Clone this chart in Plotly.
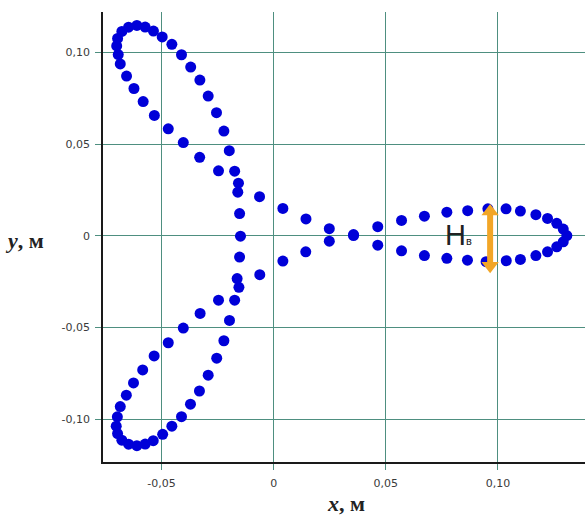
import plotly.graph_objects as go

# Trajectory points (metres), in drawing order
x_m = [-0.0497, -0.0536, -0.0573, -0.0610, -0.0647, -0.0677, -0.0696, -0.0700, -0.0693, -0.0684,
       -0.0656, -0.0623, -0.0582, -0.0532, -0.0470, -0.0403, -0.0330, -0.0246, -0.0157, -0.0063,
       0.0041, 0.0144, 0.0248, 0.0356, 0.0464, 0.0570, 0.0672, 0.0772, 0.0864, 0.0947,
       0.1037, 0.1100, 0.1169, 0.1221, 0.1262, 0.1291, 0.1307, 0.1291, 0.1262, 0.1221,
       0.1169, 0.1100, 0.1036, 0.0955, 0.0865, 0.0772, 0.0672, 0.0570, 0.0464, 0.0356,
       0.0248, 0.0143, 0.0041, -0.0062, -0.0155, -0.0246, -0.0328, -0.0403, -0.0470, -0.0533,
       -0.0584, -0.0625, -0.0657, -0.0684, -0.0697, -0.0702, -0.0696, -0.0677, -0.0647, -0.0610,
       -0.0573, -0.0537, -0.0495, -0.0454, -0.0411, -0.0371, -0.0331, -0.0292, -0.0254, -0.0222,
       -0.0197, -0.0174, -0.0163, -0.0152, -0.0148, -0.0152, -0.0160, -0.0174, -0.0198, -0.0222,
       -0.0255, -0.0292, -0.0329, -0.0370, -0.0411, -0.0454]
y_m = [0.1084, 0.1116, 0.1138, 0.1147, 0.1137, 0.1114, 0.1076, 0.1035, 0.0988, 0.0937,
       0.0871, 0.0803, 0.0732, 0.0656, 0.0583, 0.0508, 0.0428, 0.0354, 0.0287, 0.0213,
       0.0149, 0.0092, 0.0039, 0.0001, -0.0051, -0.0082, -0.0108, -0.0123, -0.0133, -0.0141,
       -0.0136, -0.0129, -0.0108, -0.0087, -0.0060, -0.0033, 0.0001, 0.0037, 0.0068, 0.0095,
       0.0115, 0.0135, 0.0147, 0.0147, 0.0137, 0.0129, 0.0107, 0.0084, 0.0050, 0.0007,
       -0.0029, -0.0087, -0.0138, -0.0212, -0.0281, -0.0351, -0.0423, -0.0503, -0.0583, -0.0655,
       -0.0731, -0.0802, -0.0869, -0.0931, -0.0987, -0.1038, -0.1078, -0.1114, -0.1136, -0.1144,
       -0.1135, -0.1117, -0.1082, -0.1038, -0.0986, -0.0918, -0.0846, -0.0760, -0.0667, -0.0572,
       -0.0461, -0.0351, -0.0233, -0.0116, -0.0002, 0.0121, 0.0238, 0.0352, 0.0464, 0.0571,
       0.0671, 0.0762, 0.0849, 0.0920, 0.0987, 0.1044]

# Tick values and labels
x_ticks = [-0.05, 0.0, 0.05, 0.10]
x_tick_text = ["-0,05", "0", "0,05", "0,10"]
y_ticks = [-0.10, -0.05, 0.0, 0.05, 0.10]
y_tick_text = ["-0,10", "-0,05", "0", "0,05", "0,10"]

# H_в dimension arrow (x position and vertical extent)
arrow_x = 0.0965
arrow_top = 0.0132
arrow_bottom = -0.0163
label_x = 0.0823
label_y = 0.0006

grid_col = "#4e8f80"
dot_col = "#0000d8"
arrow_col = "#f2a627"
title_font = dict(family="Liberation Serif, Times New Roman", size=22, color="#222222")

fig = go.Figure()
fig.add_trace(go.Scatter(x=x_m, y=y_m, mode="markers",
                         marker=dict(size=11, color=dot_col, line=dict(width=0)),
                         cliponaxis=False, hoverinfo="skip"))
# arrow shaft
fig.add_trace(go.Scatter(x=[arrow_x, arrow_x], y=[arrow_top, arrow_bottom], mode="lines",
                         line=dict(color=arrow_col, width=6), hoverinfo="skip"))
# arrow heads
fig.add_trace(go.Scatter(x=[arrow_x, arrow_x], y=[arrow_top, arrow_bottom], mode="markers",
                         marker=dict(symbol=["triangle-up", "triangle-down"], size=15,
                                     color=arrow_col, line=dict(width=0)),
                         hoverinfo="skip"))

fig.add_annotation(x=label_x, y=label_y, xref="x", yref="y", showarrow=False,
                   text="H<span style='font-size:11px'>в</span>",
                   font=dict(family="Liberation Sans, Arial", size=29, color="#222222"),
                   xanchor="center", yanchor="middle")

fig.add_annotation(x=-0.163, y=-0.0023, xref="paper", yref="y", showarrow=False,
                   text="<b><i>y</i>, м</b>", font=title_font,
                   xanchor="center", yanchor="middle")
fig.add_annotation(x=0.5045, y=-0.092, xref="paper", yref="paper", showarrow=False,
                   text="<b><i>x</i>, м</b>", font=title_font,
                   xanchor="center", yanchor="middle")

fig.update_layout(
    width=585, height=515,
    margin=dict(l=103, r=0, t=12, b=53),
    paper_bgcolor="white", plot_bgcolor="white",
    showlegend=False,
    separators=", ",
    xaxis=dict(range=[-0.0761, 0.1388], tickvals=x_ticks, ticktext=x_tick_text,
               automargin=False,
               showgrid=True, gridcolor=grid_col, gridwidth=1, zeroline=False,
               showline=True, linecolor="#1a1a1a", linewidth=1.5,
               ticks="outside", ticklen=6, tickcolor=grid_col,
               ticklabelstandoff=4,
               tickfont=dict(family="DejaVu Sans", size=11, color="#3a3a3a")),
    yaxis=dict(range=[-0.1233, 0.1220], tickvals=y_ticks, ticktext=y_tick_text,
               automargin=False,
               showgrid=True, gridcolor=grid_col, gridwidth=1, zeroline=False,
               showline=True, linecolor="#1a1a1a", linewidth=1.5,
               ticks="outside", ticklen=6, tickcolor=grid_col,
               ticklabelstandoff=3,
               tickfont=dict(family="DejaVu Sans", size=11, color="#3a3a3a")),
)

fig.write_html("out.html", config={"displayModeBar": False},
               post_script="document.body.style.margin='0';document.body.style.overflow='hidden';")
